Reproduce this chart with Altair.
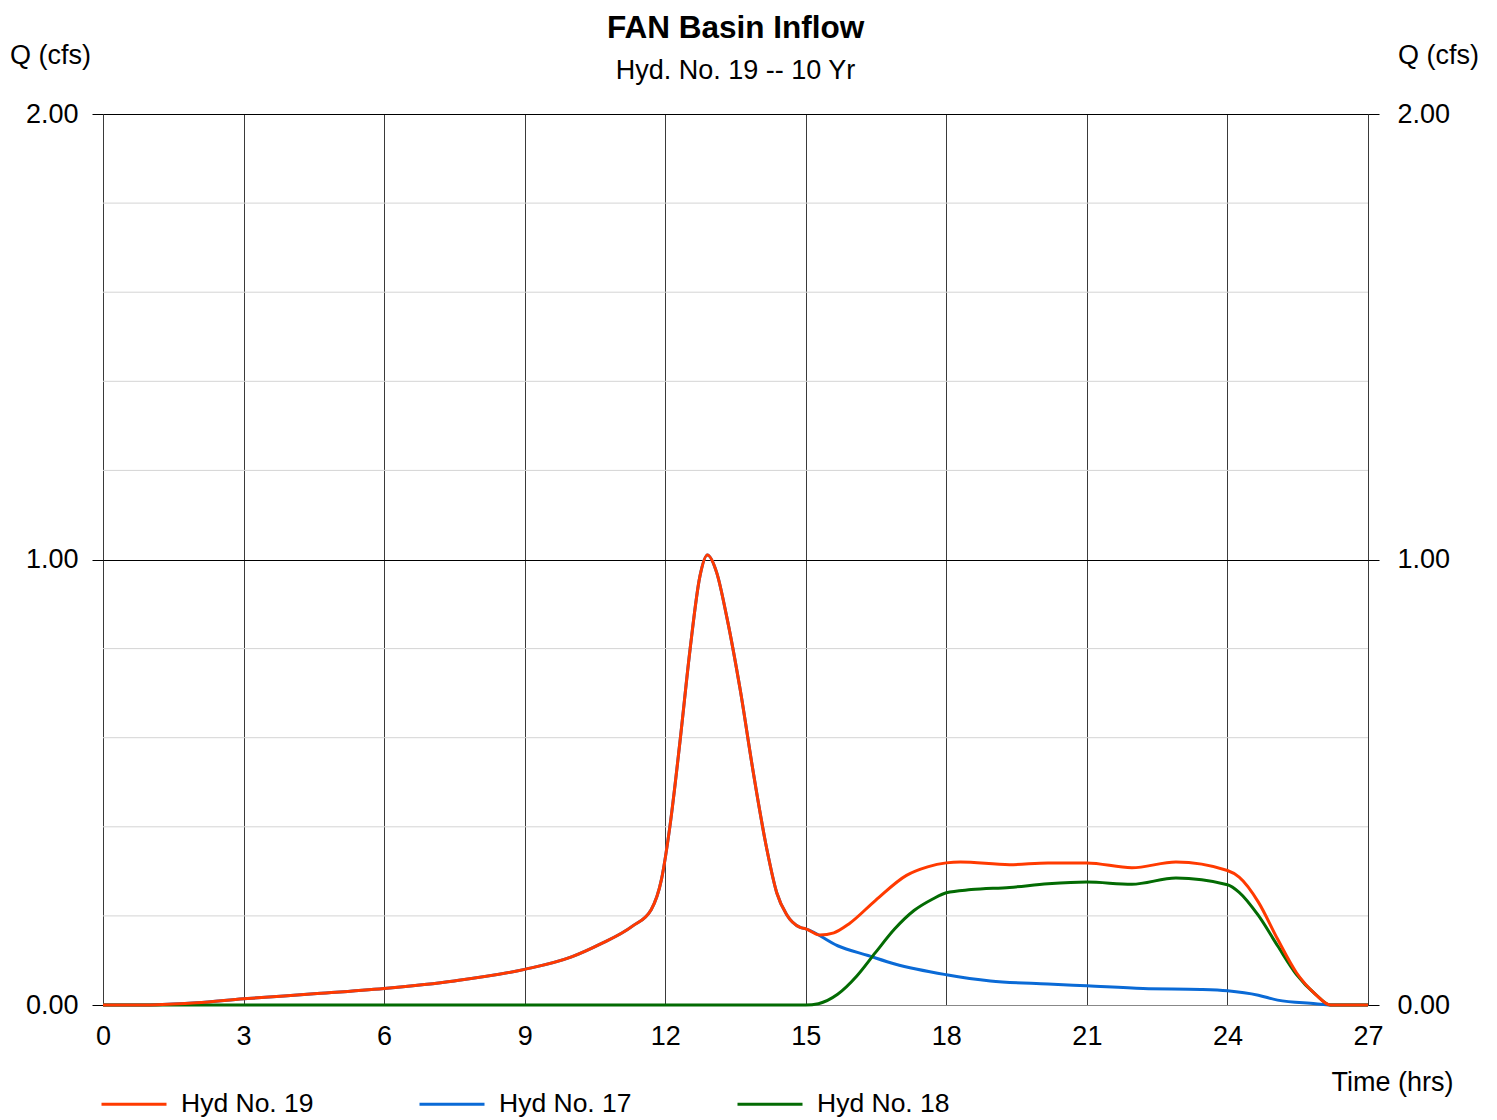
import altair as alt
import pandas as pd

FONT = "Liberation Sans"

# Hyd No. 19 (total inflow)
t19 = [0, 1.0, 1.5, 2.0, 3.0, 4.5, 6.0, 7.5, 9.0, 10.0, 10.6, 11.3, 11.7, 11.92, 12.1,
       12.32, 12.53, 12.74, 12.9, 13.1, 13.31, 13.6, 13.88, 14.17, 14.38, 14.59, 14.88,
       15.0, 15.3, 15.6, 15.92, 16.49, 17.15, 17.6, 18.0, 18.3, 19.35, 20.17, 21.0, 21.96,
       22.9, 24.0, 24.25, 24.66, 25.07, 25.47, 25.88, 26.2, 27.0]
q19 = [0, 0, 0.002, 0.005, 0.014, 0.025, 0.037, 0.054, 0.080, 0.108, 0.136, 0.177, 0.214,
       0.282, 0.401, 0.596, 0.798, 0.962, 1.01, 0.97, 0.873, 0.708, 0.522, 0.349, 0.252,
       0.203, 0.174, 0.171, 0.157, 0.162, 0.182, 0.235, 0.291, 0.310, 0.319, 0.321, 0.315,
       0.319, 0.319, 0.308, 0.321, 0.302, 0.287, 0.231, 0.148, 0.073, 0.024, 0.0, 0.0]

# Hyd No. 17
t17 = [0, 1.0, 1.5, 2.0, 3.0, 4.5, 6.0, 7.5, 9.0, 10.0, 10.6, 11.3, 11.7, 11.92, 12.1,
       12.32, 12.53, 12.74, 12.9, 13.1, 13.31, 13.6, 13.88, 14.17, 14.38, 14.59, 14.88,
       15.0, 15.68, 16.33, 16.9, 18.0, 18.94, 20.17, 21.0, 22.2, 23.43, 24.0, 24.66,
       25.07, 25.88, 26.2, 27.0]
q17 = [0, 0, 0.002, 0.005, 0.014, 0.025, 0.037, 0.054, 0.080, 0.108, 0.136, 0.177, 0.214,
       0.282, 0.401, 0.596, 0.798, 0.962, 1.01, 0.97, 0.873, 0.708, 0.522, 0.349, 0.252,
       0.203, 0.174, 0.171, 0.133, 0.111, 0.092, 0.068, 0.054, 0.047, 0.043, 0.037, 0.035,
       0.032, 0.022, 0.011, 0.003, 0.0, 0.0]

# Hyd No. 18
t18 = [0, 15.0, 15.27, 15.68, 16.09, 16.49, 16.9, 17.31, 17.71, 18.0, 18.53, 19.35, 20.17,
       21.0, 21.96, 22.9, 24.0, 24.25, 24.66, 25.07, 25.47, 25.88, 26.2, 27.0]
q18 = [0, 0, 0.003, 0.024, 0.065, 0.118, 0.171, 0.212, 0.238, 0.252, 0.259, 0.264, 0.272,
       0.276, 0.271, 0.285, 0.270, 0.253, 0.201, 0.133, 0.069, 0.024, 0.0, 0.0]

series_names = ["Hyd No. 19", "Hyd No. 17", "Hyd No. 18"]
series_colors = ["#ff3a00", "#0a6ad6", "#036b03"]

x_ticks = [0, 3, 6, 9, 12, 15, 18, 21, 24, 27]
y_ticks = [0, 1, 2]
y_minor = [0.2, 0.4, 0.6, 0.8, 1.2, 1.4, 1.6, 1.8]

W, H = 1265, 891
FS = 27

color_scale = alt.Scale(domain=series_names, range=series_colors)
legend = alt.Legend(
    title=None, orient="none", legendX=-3, legendY=956, direction="horizontal",
    columns=3, columnPadding=99, symbolType="stroke", symbolSize=4225,
    symbolStrokeWidth=3, labelFontSize=26.5, labelFont=FONT, labelColor="black",
    labelOffset=13, symbolOffset=0,
)

y_scale = alt.Scale(domain=[0, 2], nice=False, zero=True)
x_scale = alt.Scale(domain=[0, 27], nice=False)

left_axis = alt.Axis(
    values=y_ticks, format=".2f", grid=True, gridColor="black", gridWidth=1,
    domain=False, ticks=True, tickSize=11, tickColor="black", labelPadding=14,
    labelFont=FONT, labelFontSize=FS, labelColor="black",
    title="Q (cfs)", titleAngle=0, titleFont=FONT, titleFontSize=FS,
    titleFontWeight="normal", titleColor="black", titleX=-53, titleY=-59,
    titleAlign="center", titleBaseline="middle",
)
right_axis = alt.Axis(
    orient="right", values=y_ticks, format=".2f", grid=False,
    domain=False, ticks=True, tickSize=11, tickColor="black", labelPadding=18,
    labelFont=FONT, labelFontSize=FS, labelColor="black",
    title="Q (cfs)", titleAngle=0, titleFont=FONT, titleFontSize=FS,
    titleFontWeight="normal", titleColor="black", titleX=70, titleY=-59,
    titleAlign="center", titleBaseline="middle",
)
x_axis = alt.Axis(
    values=x_ticks, grid=True, gridColor="#3a3a3a", gridWidth=1,
    domain=True, domainColor="#888888", ticks=False, labelPadding=18,
    labelFlush=False,
    labelFont=FONT, labelFontSize=FS, labelColor="black",
    title="Time (hrs)", titleFont=FONT, titleFontSize=FS, titleFontWeight="normal",
    titleColor="black", titleX=1350, titleY=77, titleAlign="right",
    titleBaseline="middle",
)

minor = alt.Chart(pd.DataFrame({"q": y_minor})).mark_rule(
    color="#d4d4d4", strokeWidth=1
).encode(y=alt.Y("q:Q", scale=y_scale, axis=right_axis))


def line(t, q, name, with_axes):
    df = pd.DataFrame({"t": t, "q": q, "s": [name] * len(t)})
    return alt.Chart(df).mark_line(strokeWidth=3, interpolate="monotone").encode(
        x=alt.X("t:Q", scale=x_scale, axis=x_axis if with_axes else None),
        y=alt.Y("q:Q", scale=y_scale, axis=left_axis if with_axes else None),
        color=alt.Color("s:N", scale=color_scale, legend=legend),
    )


chart = alt.layer(
    minor,
    line(t17, q17, "Hyd No. 17", False),
    line(t18, q18, "Hyd No. 18", False),
    line(t19, q19, "Hyd No. 19", True),
).resolve_axis(y="independent", x="independent").properties(
    width=W, height=H,
    title=alt.TitleParams(
        "FAN Basin Inflow", subtitle="Hyd. No. 19 -- 10 Yr",
        font=FONT, fontSize=31.5, fontWeight="bold", color="black",
        subtitleFont=FONT, subtitleFontSize=27, subtitleColor="black",
        anchor="middle", frame="group", offset=-43, subtitlePadding=14,
    ),
    autosize=alt.AutoSizeParams(type="none"),
    padding={"left": 95, "top": 106, "right": 110, "bottom": 112},
).configure_view(stroke=None).configure(background="white")

chart.save("out.html", embed_options={"renderer": "svg", "actions": False})
